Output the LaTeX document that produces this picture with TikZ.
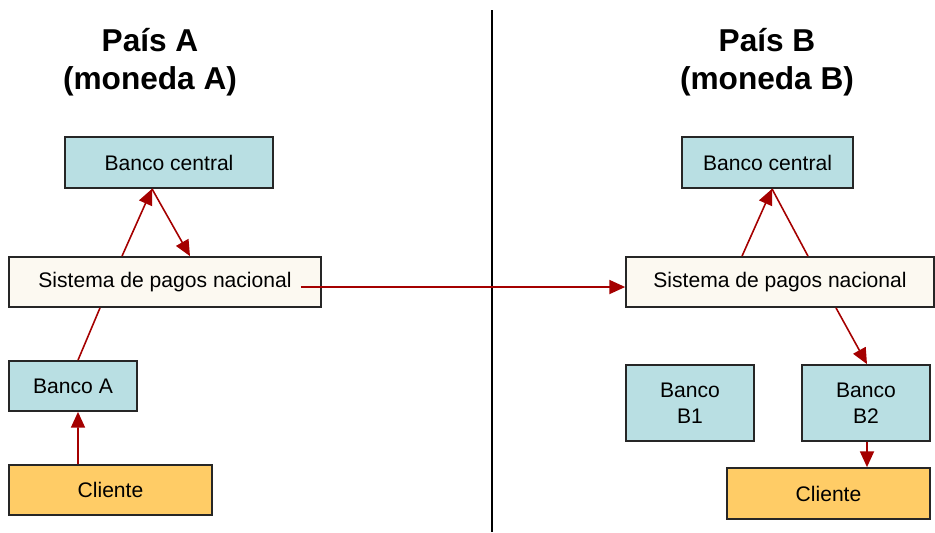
\documentclass[tikz,border=0pt]{standalone}
\usepackage{fontspec}
\setmainfont{Liberation Sans}
\usepackage{xcolor}
\usetikzlibrary{positioning, arrows.meta, calc}
\definecolor{azulBanco}{RGB}{185, 223, 227}
\definecolor{cremaSis}{RGB}{252, 249, 241}
\definecolor{naranjaCli}{RGB}{255, 204, 102}
\definecolor{rojoFlecha}{RGB}{165, 0, 0}

\begin{document}
\begin{tikzpicture}[x=0.02cm, y=-0.02cm,
    caja/.style={draw=black!85, line width=1pt, inner sep=0pt, align=center,
        font=\fontsize{12}{14.5}\selectfont},
    banco/.style={caja, fill=azulBanco},
    sistema/.style={caja, fill=cremaSis, minimum width=6.2cm, minimum height=1cm},
    cliente/.style={caja, fill=naranjaCli, minimum width=4.06cm, minimum height=1cm},
    titulo/.style={align=center, font=\fontsize{18}{21.6}\selectfont\bfseries},
    flecha/.style={draw=rojoFlecha, line width=0.9pt, -{Triangle[length=9pt, width=8pt]}},
    linea/.style={draw=rojoFlecha, line width=0.9pt}]
    \useasboundingbox (0,0) rectangle (935,532);

    % titulos
    \node[titulo] (titA) at (150,62) {País A\\(moneda A)};
    \node[titulo] (titB) at (767,62) {País B\\(moneda B)};

    % linea divisoria
    \coordinate (divTop) at (492,10);
    \coordinate (divBot) at (492,532);
    \draw[line width=1pt] (divTop) -- (divBot);

    % pais A
    \node[banco, minimum width=4.16cm, minimum height=1.02cm] (cbA) at (169,162.5) {Banco central};
    \node[sistema, minimum width=6.24cm] (sisA) at (165,282) {Sistema de pagos nacional};
    \node[banco, minimum width=2.56cm, minimum height=1cm] (bancoA) at (73,386) {Banco A};
    \node[cliente] (cliA) at (110.5,490) {Cliente};

    % pais B
    \node[banco, minimum width=3.42cm, minimum height=1.02cm] (cbB) at (767.5,162.5) {Banco central};
    \node[sistema, minimum width=6.16cm] (sisB) at (780,282) {Sistema de pagos nacional};
    \node[banco, minimum width=2.56cm, minimum height=1.52cm] (bancoB1) at (690,403) {Banco\\B1};
    \node[banco, minimum width=2.56cm, minimum height=1.52cm] (bancoB2) at (866,403) {Banco\\B2};
    \node[cliente, minimum height=1.02cm] (cliB) at (828.5,493.5) {Cliente};

    % flujos pais A
    \draw[flecha] ([xshift=-0.86cm]sisA.north) -- ([xshift=-0.34cm]cbA.south);
    \draw[flecha] ([xshift=-0.34cm]cbA.south) -- ([xshift=0.5cm]sisA.north);
    \draw[linea] ([xshift=0.1cm]bancoA.north) -- ([xshift=-1.3cm]sisA.south);
    \draw[flecha] ([xshift=-0.65cm]cliA.north) -- ([xshift=0.1cm]bancoA.south);

    % flujo entre paises
    \draw[flecha] ([xshift=-0.42cm, yshift=-0.1cm]sisA.east) -- ([yshift=-0.1cm]sisB.west);

    % flujos pais B
    \draw[flecha] ([xshift=-0.76cm]sisB.north) -- ([xshift=0.09cm]cbB.south);
    \draw[linea] ([xshift=0.09cm]cbB.south) -- ([xshift=0.56cm]sisB.north);
    \draw[flecha] ([xshift=1.12cm]sisB.south) -- ([xshift=0.02cm]bancoB2.north);
    \draw[flecha] ([xshift=0.02cm]bancoB2.south) -- ([xshift=0.02cm]bancoB2.south |- cliB.north);
\end{tikzpicture}
\end{document}
